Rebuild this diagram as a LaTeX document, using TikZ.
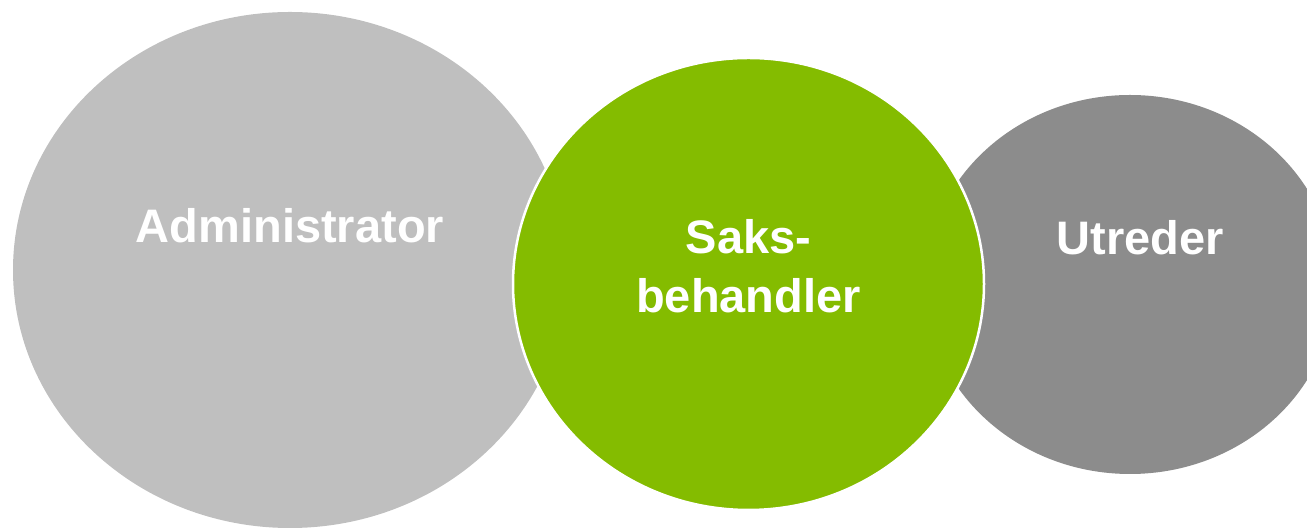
\documentclass[tikz,border=0pt]{standalone}
\usepackage{fontspec}
\setmainfont{Liberation Sans}
\usetikzlibrary{shapes.geometric}
\usetikzlibrary{positioning}
\definecolor{lightgrey}{HTML}{BFBFBF}
\definecolor{darkgrey}{HTML}{8C8C8C}
\definecolor{leafgreen}{HTML}{84BC00}
\tikzset{
  bubble/.style={ellipse, inner sep=0pt},
  bubbletext/.style={text=white, font=\fontsize{47}{59}\selectfont\bfseries, align=center, inner sep=0pt}
}
\begin{document}
\begin{tikzpicture}[x=1pt,y=1pt]
\useasboundingbox (0,0) rectangle (1307,529);
\clip (0,0) rectangle (1307,529);
% The three bubbles, the green one last so it lies on top
\node[bubble, fill=lightgrey, minimum width=554pt, minimum height=516pt] (admin) at (290,259) {};
\node[bubble, fill=darkgrey, minimum width=410pt, minimum height=379pt] (utreder) at (1130,244.5) {};
\node[bubble, fill=leafgreen, draw=white, line width=2.5pt, minimum width=471pt, minimum height=452pt] (saks) at (748.5,245) {};
%% Labels for the bubbles are typeset.
\node[bubbletext, anchor=base] (adminlbl) at ([yshift=27pt]admin.center) {Administrator};
\node[bubbletext] (sakslbl) at ([yshift=18pt]saks.center) {Saks-\\behandler};
\node[bubbletext, anchor=base] (utrederlbl) at ([xshift=10pt,yshift=29.5pt]utreder.center) {Utreder};
\end{tikzpicture}
\end{document}
